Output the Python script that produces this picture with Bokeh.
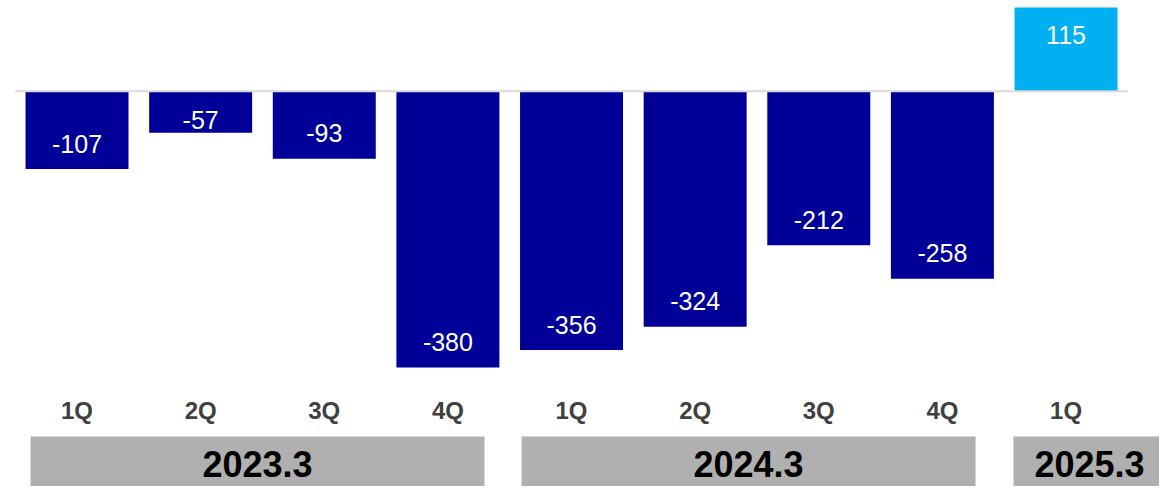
from bokeh.plotting import figure
from bokeh.models import Range1d, ColumnDataSource
from bokeh.core.properties import value
from bokeh.embed import file_html
from bokeh.resources import INLINE

# ---- data ----
quarters = ["1Q", "2Q", "3Q", "4Q", "1Q", "2Q", "3Q", "4Q", "1Q"]
values = [-107, -57, -93, -380, -356, -324, -212, -258, 115]
years = ["2023.3", "2024.3", "2025.3"]
year_first = [0, 4, 8]
year_last = [3, 7, 8]

# ---- style ----
NEG_COLOR = "#000099"
POS_COLOR = "#00B0F0"
BOX_COLOR = "#B0B0B0"
Q_COLOR = "#404040"
FONT = value("Liberation Sans")
box_left_pad = [0.376, 0.404, 0.425]
box_right_pad = [0.296, 0.268, 0.805]

n = len(values)
xs = list(range(n))
colors = [NEG_COLOR if v < 0 else POS_COLOR for v in values]
labels = [str(v) for v in values]
label_y = []
for v in values:
    if abs(v) >= 80:
        label_y.append(v + 35 if v < 0 else v - 38)
    else:
        label_y.append(v + 17 if v < 0 else v - 17)

Y_TOP = 124.8
Y_BOTTOM = -543.7
Q_Y = -439.2
BOX_TOP = -474.9
YEAR_Y = -513.4

p = figure(width=1159, height=486, output_backend="svg", toolbar_location=None,
           x_range=Range1d(-0.619, 8.756), y_range=Range1d(Y_BOTTOM, Y_TOP),
           min_border=0, min_border_left=0, min_border_right=0,
           min_border_top=0, min_border_bottom=0)
p.axis.visible = False
p.grid.visible = False
p.outline_line_color = None
p.background_fill_color = "white"
p.border_fill_color = "white"

src = ColumnDataSource(dict(x=xs, top=values, color=colors, label=labels,
                            ly=label_y, q=quarters, qy=[Q_Y] * n))
p.vbar(x="x", top="top", bottom=0, width=0.833, fill_color="color",
       line_color=None, source=src)
p.segment(x0=[-0.5], y0=[0], x1=[n - 0.5], y1=[0], line_color="#D9D9D9", line_width=2)

p.text(x="x", y="ly", text="label", source=src, text_align="center",
       text_baseline="middle", text_color="white", text_font=FONT,
       text_font_size="25px")
p.text(x="x", y="qy", text="q", source=src, text_align="center",
       text_baseline="middle", text_color=Q_COLOR, text_font=FONT,
       text_font_size="24px", text_font_style="bold")

lefts = [f - pad for f, pad in zip(year_first, box_left_pad)]
rights = [l + pad for l, pad in zip(year_last, box_right_pad)]
ysrc = ColumnDataSource(dict(left=lefts, right=rights, label=years,
                             cx=[(a + b) / 2 for a, b in zip(lefts, rights)],
                             cy=[YEAR_Y] * len(years)))
p.quad(left="left", right="right", top=BOX_TOP, bottom=Y_BOTTOM - 50,
       fill_color=BOX_COLOR, line_color=None, source=ysrc)
p.text(x="cx", y="cy", text="label", source=ysrc, text_align="center",
       text_baseline="middle", text_color="black", text_font=FONT,
       text_font_size="36px", text_font_style="bold")

open("out.html", "w").write(file_html(p, INLINE))
